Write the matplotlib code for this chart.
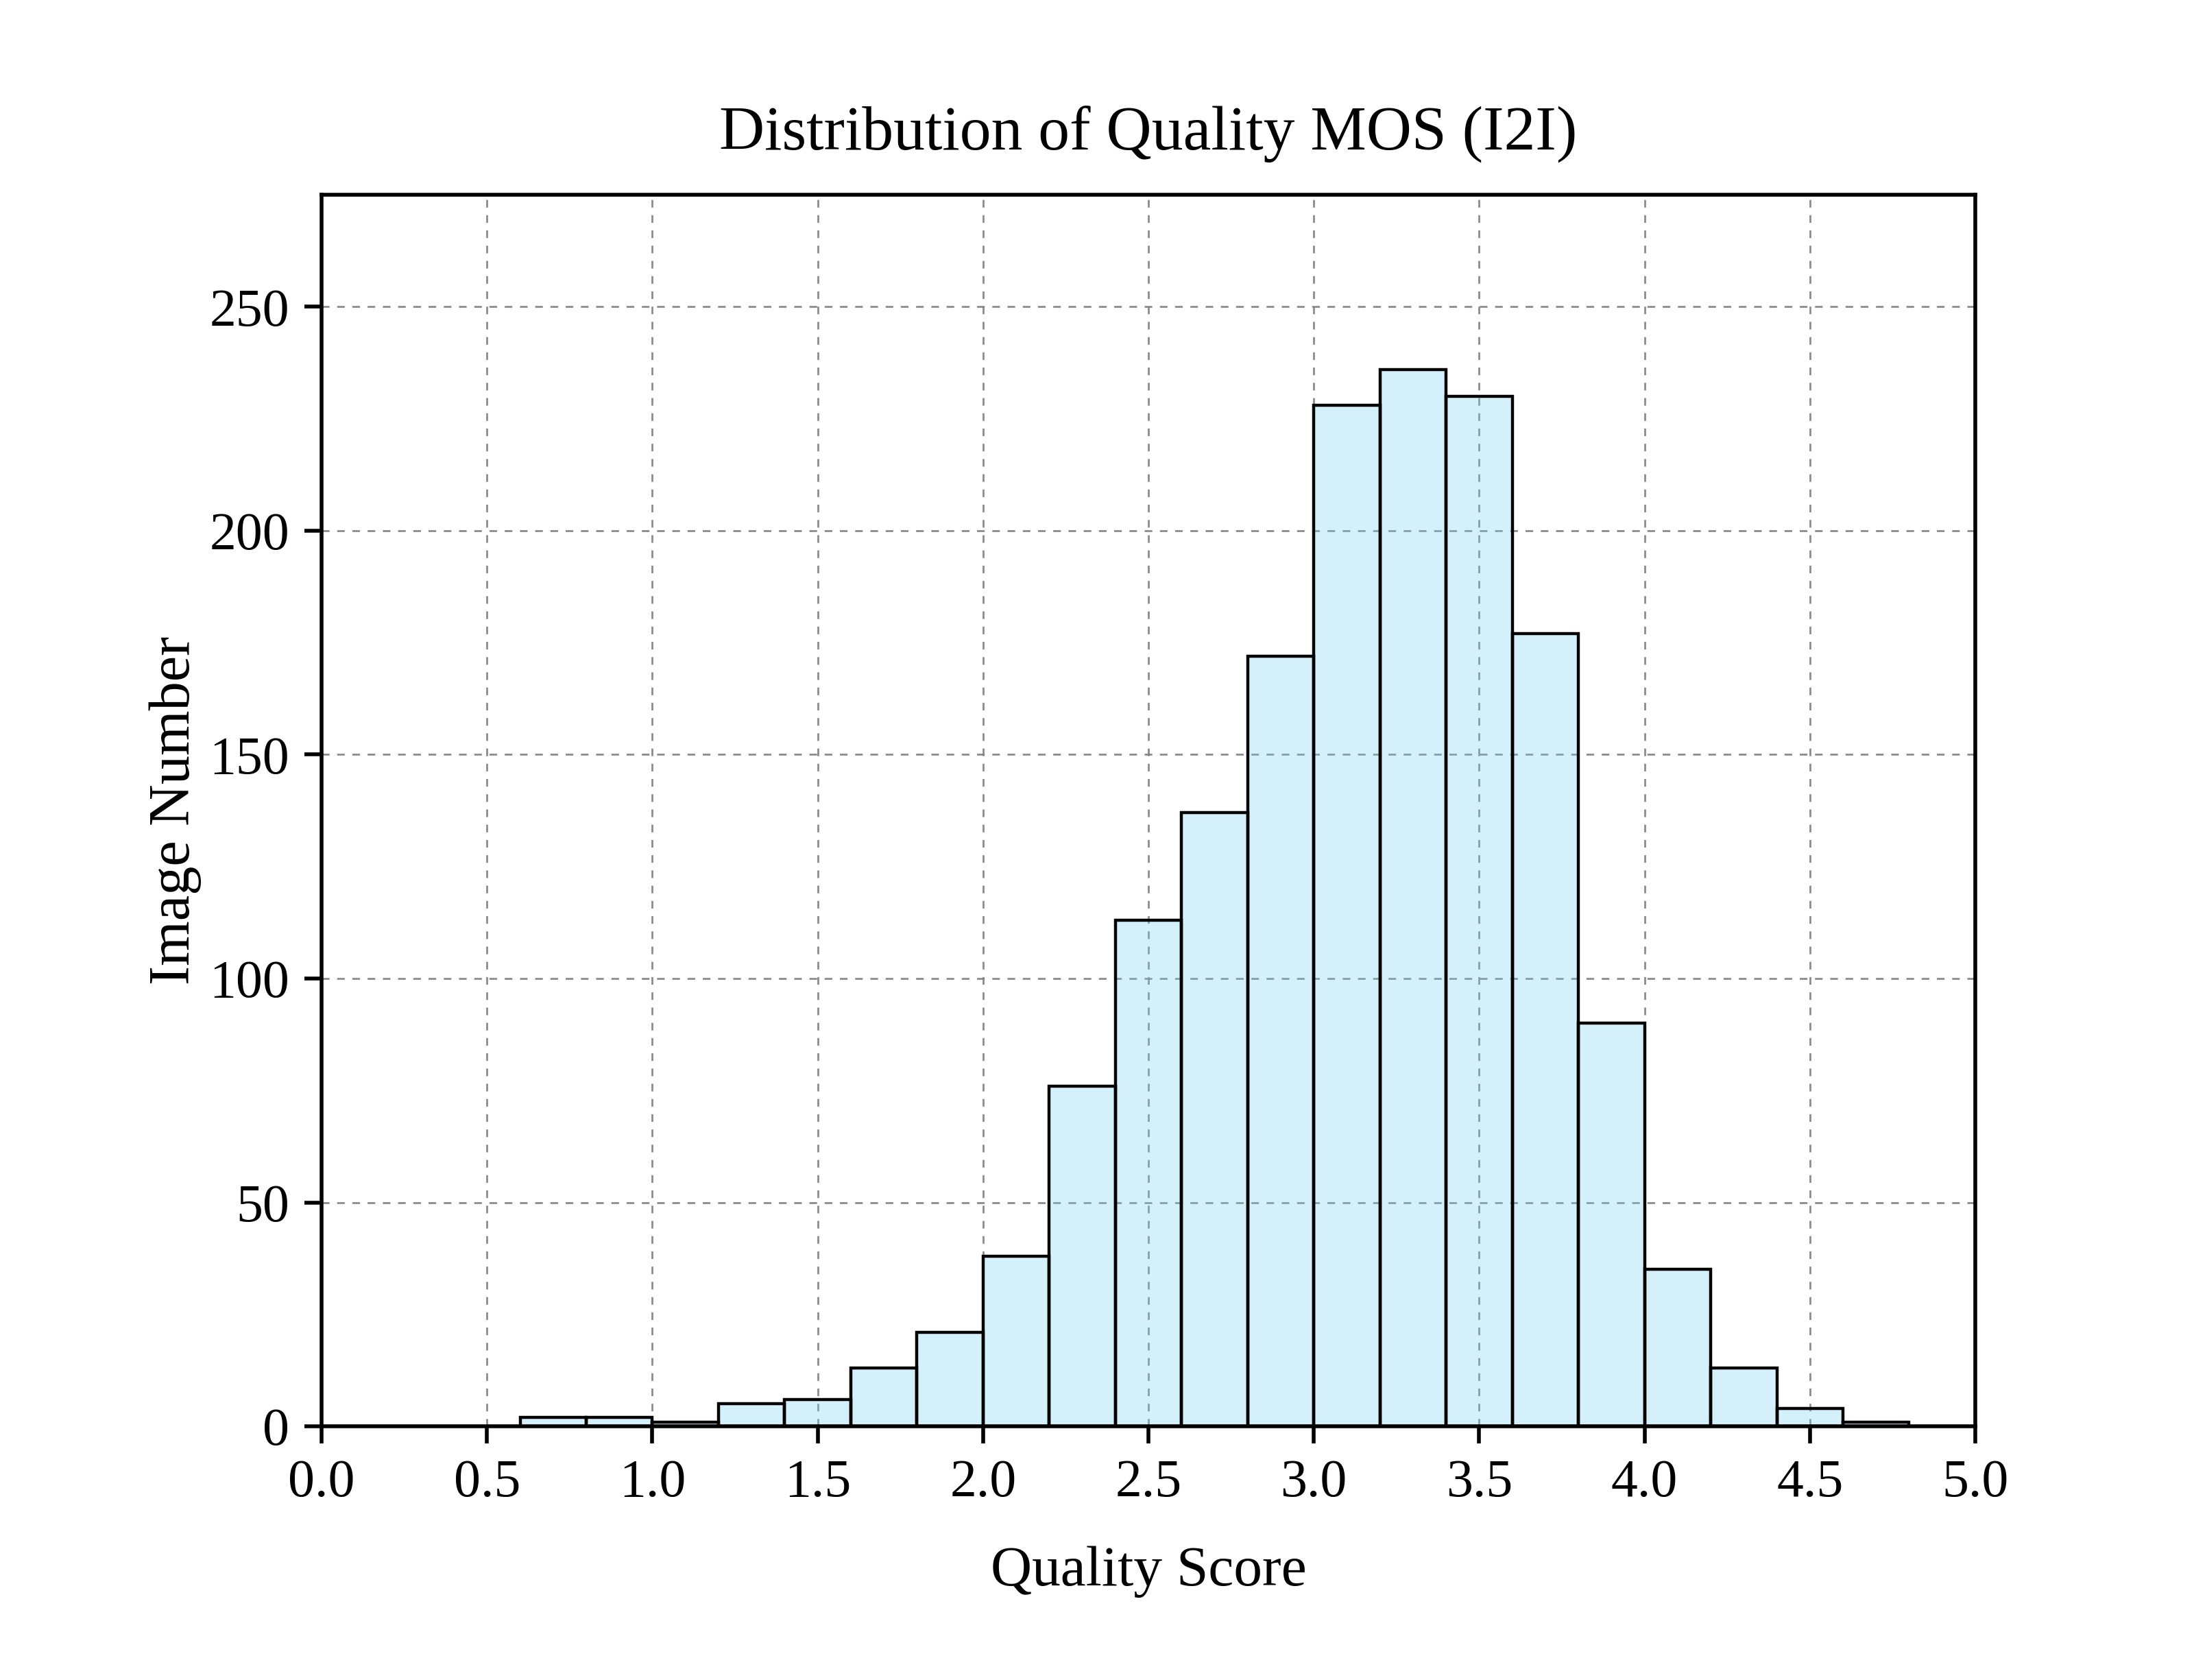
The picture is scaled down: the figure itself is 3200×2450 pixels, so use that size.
import numpy as np
import matplotlib.pyplot as plt

# histogram of quality MOS, bin width 0.2 from 0 to 5
bin_edges = np.round(np.arange(0, 5.01, 0.2), 1)
counts = [0, 0, 0, 2, 2, 1, 5, 6, 13, 21, 38, 76, 113, 137, 172,
          228, 236, 230, 177, 90, 35, 13, 4, 1, 0]

x_ticks = [0.0, 0.5, 1.0, 1.5, 2.0, 2.5, 3.0, 3.5, 4.0, 4.5, 5.0]
y_ticks = [0, 50, 100, 150, 200, 250]

plt.rcParams['font.family'] = ['Liberation Serif', 'DejaVu Serif']
plt.rcParams['axes.linewidth'] = 1.0

fig = plt.figure(figsize=(8, 6.125), dpi=400)
ax = fig.add_axes([0.1466, 0.151, 0.7537, 0.733])

ax.grid(True, color='gray', linestyle=(0, (4, 4)), linewidth=0.5, alpha=0.9)
ax.set_axisbelow(True)

ax.hist(bin_edges[:-1], bins=bin_edges, weights=counts,
        color='#70D0F5', alpha=0.3, edgecolor='none')
ax.hist(bin_edges[:-1], bins=bin_edges, weights=counts,
        facecolor='none', edgecolor='black', linewidth=0.8)

ax.set_xlim(0, 5)
ax.set_ylim(0, 275)
ax.set_xticks(x_ticks)
ax.set_xticklabels([f'{v:.1f}' for v in x_ticks])
ax.set_yticks(y_ticks)
ax.tick_params(axis='both', direction='out', length=4.5, width=1.0,
               labelsize=14, pad=4)

ax.set_title('Distribution of Quality MOS (I2I)', fontsize=16.5, pad=12)
ax.set_xlabel('Quality Score', fontsize=15, labelpad=10)
ax.set_ylabel('Image Number', fontsize=15.2, labelpad=2)

plt.savefig('out.png', dpi=400)
plt.close()
